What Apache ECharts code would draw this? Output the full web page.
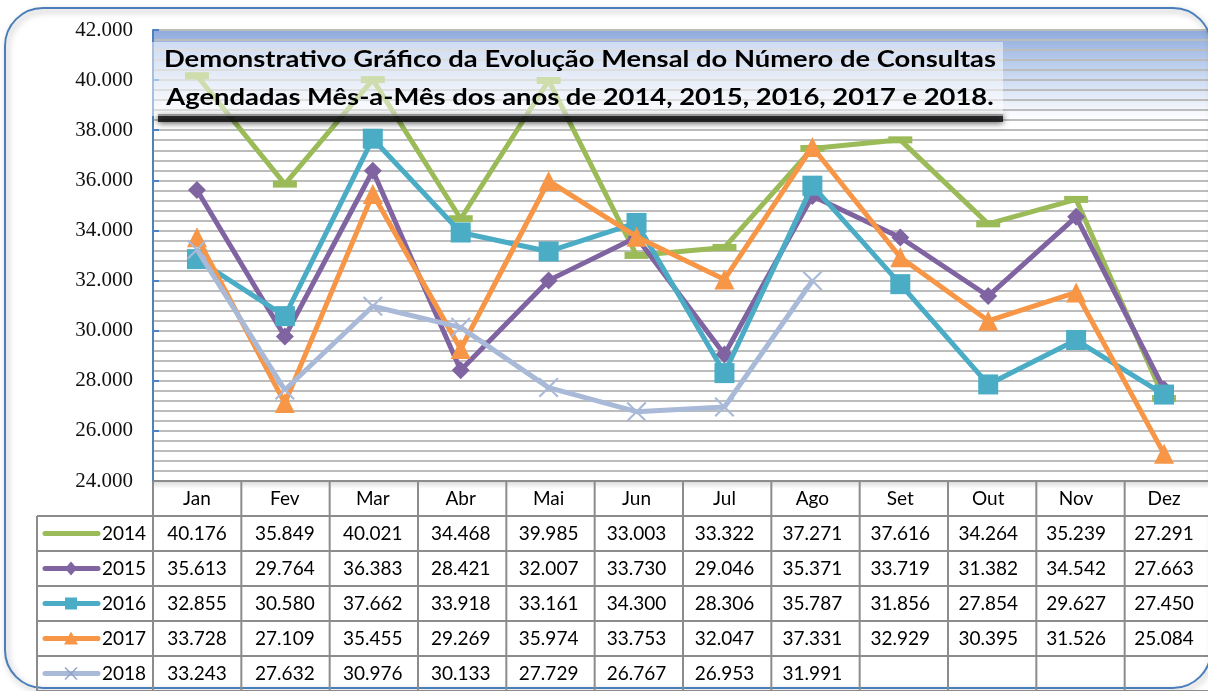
<!DOCTYPE html>
<html>
<head>
<meta charset="utf-8">
<script src="https://cdn.jsdelivr.net/npm/echarts@6/dist/echarts.min.js"></script>
<style>
  html, body { margin: 0; padding: 0; background: #fff; }
  #chart { width: 1208px; height: 691px; }
</style>
</head>
<body>
<div id="chart"></div>
<script>
var months = ['Jan', 'Fev', 'Mar', 'Abr', 'Mai', 'Jun', 'Jul', 'Ago', 'Set', 'Out', 'Nov', 'Dez'];
var years = ['2014', '2015', '2016', '2017', '2018'];
var v2014 = [40176, 35849, 40021, 34468, 39985, 33003, 33322, 37271, 37616, 34264, 35239, 27291];
var v2015 = [35613, 29764, 36383, 28421, 32007, 33730, 29046, 35371, 33719, 31382, 34542, 27663];
var v2016 = [32855, 30580, 37662, 33918, 33161, 34300, 28306, 35787, 31856, 27854, 29627, 27450];
var v2017 = [33728, 27109, 35455, 29269, 35974, 33753, 32047, 37331, 32929, 30395, 31526, 25084];
var v2018 = [33243, 27632, 30976, 30133, 27729, 26767, 26953, 31991];

var titleLines = [
  'Demonstrativo Gráfico da Evolução Mensal do Número de Consultas',
  'Agendadas Mês-a-Mês dos anos de 2014, 2015, 2016, 2017 e 2018.'
];

var colors = ['#9bbb59', '#8064a2', '#4bacc6', '#f79646', '#a9b9d8'];
var xMark = 'path://M0,1.5L1.5,0L10,8.5L18.5,0L20,1.5L11.5,10L20,18.5L18.5,20L10,11.5L1.5,20L0,18.5L8.5,10Z';
var symbols = [
  { symbol: 'rect', size: [24, 7] },
  { symbol: 'diamond', size: 18 },
  { symbol: 'rect', size: 20 },
  { symbol: 'triangle', size: 20 },
  { symbol: xMark, size: 20 }
];
var allValues = [v2014, v2015, v2016, v2017, v2018];

function fmt(v) {
  var k = Math.floor(v / 1000), r = String(v % 1000);
  while (r.length < 3) r = '0' + r;
  return k + '.' + r;
}

var chart = echarts.init(document.getElementById('chart'));
var gridLeft = 153, gridTop = 30, gridBottomY = 481, gridWidth = 1060;
var rowH = 35, tableLeft = 37;
var lineColor = '#8c8c8c';

chart.setOption({
  animation: false,
  grid: {
    left: gridLeft, top: gridTop, width: gridWidth, height: gridBottomY - gridTop,
    show: true, borderWidth: 0,
    backgroundColor: new echarts.graphic.LinearGradient(0, 0, 0, 1, [
      { offset: 0, color: '#8eabdd' },
      { offset: 0.1, color: '#c9d8f1' },
      { offset: 0.2, color: '#ffffff' },
      { offset: 1, color: '#ffffff' }
    ])
  },
  xAxis: {
    type: 'category',
    data: months,
    z: 40,
    axisLine: { show: false },
    axisTick: { show: false },
    axisLabel: { color: '#000', fontFamily: 'Lato', fontSize: 19, margin: 8 }
  },
  yAxis: {
    type: 'value',
    min: 24000, max: 42000, interval: 2000,
    axisLine: { show: true, lineStyle: { color: '#4f81bd', width: 2 } },
    axisTick: { show: true, inside: true, length: 6, lineStyle: { color: '#4f81bd', width: 2 } },
    axisLabel: {
      color: '#111', fontFamily: 'Liberation Serif', fontSize: 21, margin: 20,
      formatter: function (v) { return fmt(v); }
    },
    splitLine: { lineStyle: { color: '#bcbcbc', width: 2 } },
    minorTick: { show: false, splitNumber: 5 },
    minorSplitLine: { show: true, lineStyle: { color: '#bcbcbc', width: 2 } }
  },
  series: allValues.map(function (vals, i) {
    return {
      name: years[i],
      type: 'line',
      data: vals,
      symbol: symbols[i].symbol,
      symbolSize: symbols[i].size,
      showAllSymbol: true,
      color: colors[i],
      lineStyle: { width: 5, color: colors[i] },
      itemStyle: { color: colors[i] },
      z: 3 + i
    };
  })
});

var g = [];
// outer rounded frame
g.push({
  type: 'rect', z: 0, silent: true,
  shape: { x: 5, y: 8, width: 1206, height: 680, r: 38 },
  style: { fill: 'none', stroke: '#4a7ebb', lineWidth: 2, shadowBlur: 6, shadowColor: 'rgba(0,0,0,0.35)', shadowOffsetX: 2, shadowOffsetY: 3 }
});

var colX = months.map(function (m, i) { return chart.convertToPixel({ xAxisIndex: 0 }, i); });
var colW = gridWidth / months.length;
var right = gridLeft + gridWidth;

// header shading
months.forEach(function (m, i) {
  g.push({
    type: 'rect', z: 1, silent: true,
    shape: { x: gridLeft + i * colW, y: gridBottomY, width: colW, height: rowH },
    style: { fill: new echarts.graphic.LinearGradient(0, 0, 0, 1, [
      { offset: 0, color: '#d8d8d8' }, { offset: 0.22, color: '#ffffff' }, { offset: 1, color: '#ffffff' }
    ]) }
  });
});
// horizontal lines
g.push({ type: 'line', z: 10, silent: true, shape: { x1: gridLeft, y1: gridBottomY, x2: right, y2: gridBottomY }, style: { stroke: lineColor, lineWidth: 2 } });
for (var r = 1; r <= years.length + 1; r++) {
  var yy = gridBottomY + r * rowH;
  g.push({ type: 'line', z: 10, silent: true, shape: { x1: tableLeft, y1: yy, x2: right, y2: yy }, style: { stroke: lineColor, lineWidth: 2 } });
}
// vertical lines
g.push({ type: 'line', z: 10, silent: true, shape: { x1: tableLeft, y1: gridBottomY + rowH, x2: tableLeft, y2: 700 }, style: { stroke: lineColor, lineWidth: 2 } });
for (var c = 0; c <= months.length; c++) {
  var xx = gridLeft + c * colW;
  g.push({ type: 'line', z: 10, silent: true, shape: { x1: xx, y1: gridBottomY, x2: xx, y2: 700 }, style: { stroke: lineColor, lineWidth: 2 } });
}
// legend keys, year labels and values
years.forEach(function (yr, i) {
  var cy = gridBottomY + (i + 1) * rowH + rowH / 2;
  g.push({ type: 'line', z: 11, silent: true, shape: { x1: 45, y1: cy, x2: 98, y2: cy }, style: { stroke: colors[i], lineWidth: 5, lineCap: 'round' } });
  g.push({ type: 'text', z: 12, silent: true, style: { text: yr, x: 102, y: cy, verticalAlign: 'middle', fontFamily: 'Lato', fontSize: 19, fill: '#000' } });
  allValues[i].forEach(function (v, j) {
    g.push({ type: 'text', z: 12, silent: true, style: { text: fmt(v), x: colX[j], y: cy, align: 'center', verticalAlign: 'middle', fontFamily: 'Lato', fontSize: 19, fill: '#000' } });
  });
});
var cy2 = gridBottomY + 2 * rowH + rowH / 2;
var cy3 = gridBottomY + 3 * rowH + rowH / 2;
var cy4 = gridBottomY + 4 * rowH + rowH / 2;
var cy5 = gridBottomY + 5 * rowH + rowH / 2;
g.push({ type: 'polygon', z: 13, silent: true, shape: { points: [[71, cy2 - 7], [77, cy2], [71, cy2 + 7], [65, cy2]] }, style: { fill: colors[1] } });
g.push({ type: 'rect', z: 13, silent: true, shape: { x: 65, y: cy3 - 6, width: 12, height: 12 }, style: { fill: colors[2] } });
g.push({ type: 'polygon', z: 13, silent: true, shape: { points: [[71, cy4 - 7], [78, cy4 + 6], [64, cy4 + 6]] }, style: { fill: colors[3] } });
g.push({ type: 'line', z: 13, silent: true, shape: { x1: 65, y1: cy5 - 6, x2: 77, y2: cy5 + 6 }, style: { stroke: '#8fa3cb', lineWidth: 1.5 } });
g.push({ type: 'line', z: 13, silent: true, shape: { x1: 65, y1: cy5 + 6, x2: 77, y2: cy5 - 6 }, style: { stroke: '#8fa3cb', lineWidth: 1.5 } });

// title box
g.push({
  type: 'rect', z: 20, silent: true,
  shape: { x: 158, y: 114, width: 845, height: 8 },
  style: { fill: 'rgba(20,20,20,0.85)', shadowBlur: 6, shadowColor: 'rgba(0,0,0,0.8)', shadowOffsetY: 1 }
});
g.push({
  type: 'rect', z: 21, silent: true,
  shape: { x: 152, y: 42, width: 851, height: 74 },
  style: { fill: 'rgba(255,255,255,0.5)' }
});
titleLines.forEach(function (t, i) {
  g.push({
    type: 'text', z: 22, silent: true,
    x: 580, y: 60 + i * 38, scaleX: 1.19,
    style: { text: t, x: 0, y: 0, align: 'center', verticalAlign: 'middle', fontFamily: 'Lato', fontWeight: 'bold', fontSize: 23, fill: '#000' }
  });
});

chart.setOption({ graphic: g });
</script>
</body>
</html>
